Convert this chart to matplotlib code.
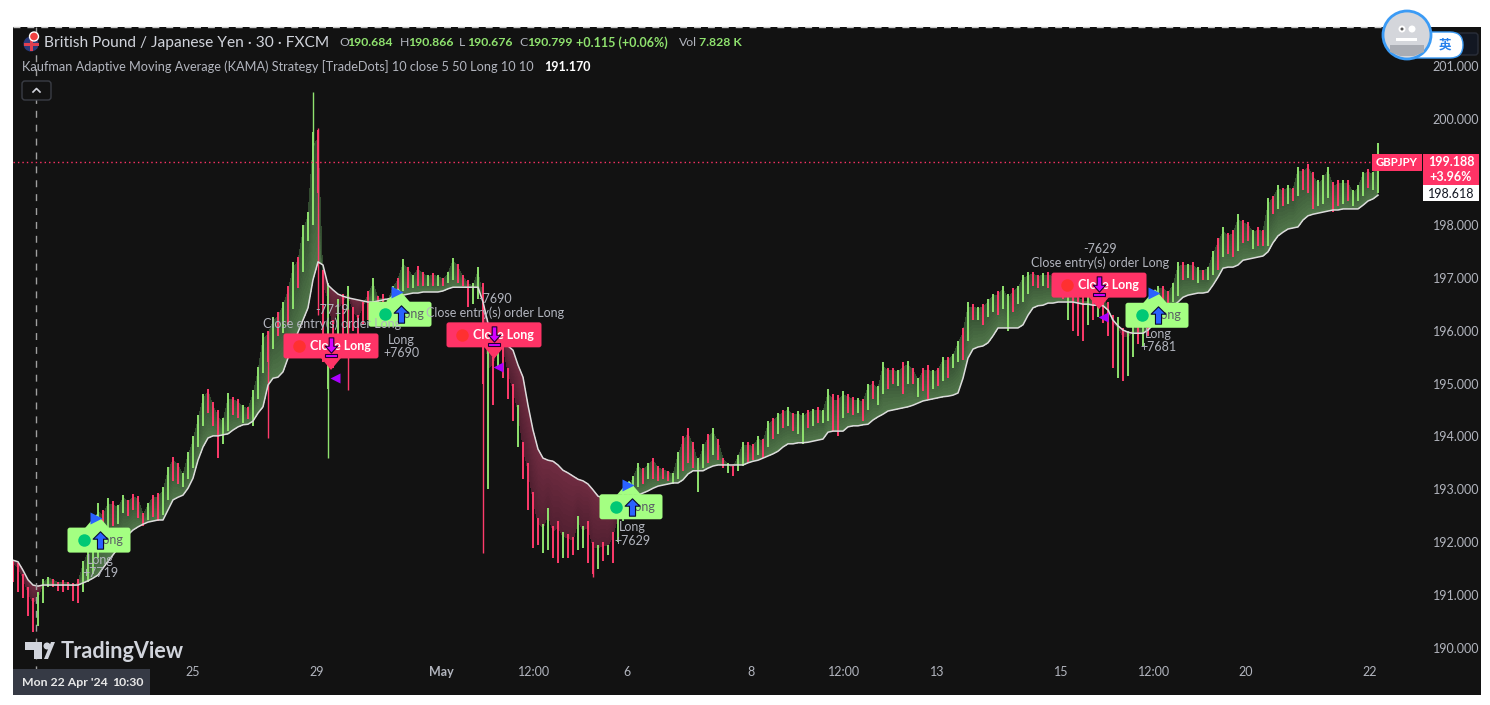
import numpy as np
import matplotlib
matplotlib.use("Agg")
import matplotlib.pyplot as plt
from matplotlib.patches import Rectangle, Circle, Polygon, FancyBboxPatch
from matplotlib.path import Path
from matplotlib.transforms import Affine2D

plt.rcParams['font.family'] = ['Lato', 'DejaVu Sans']

W, H = 1490, 705
BG = '#121212'
UP = '#8fe26e'
DOWN = '#ff3b6b'
PINK = '#ff3366'
LIME = '#a4ff82'
GREY = '#b2b5be'

# one row = 20 bars
kama = [
    191.66, 191.63, 191.47, 191.29, 191.19, 191.17, 191.19, 191.19, 191.19, 191.19, 191.19, 191.19, 191.19, 191.19, 191.23, 191.27, 191.32, 191.38, 191.51, 191.64,
    191.76, 191.89, 192.02, 192.14, 192.23, 192.29, 192.34, 192.38, 192.40, 192.42, 192.42, 192.61, 192.80, 192.85, 192.89, 193.02, 193.21, 193.55, 193.80, 193.97,
    194.01, 194.01, 194.03, 194.05, 194.12, 194.18, 194.22, 194.23, 194.29, 194.44, 194.56, 194.97, 195.10, 195.12, 195.22, 195.48, 195.73, 195.97, 196.20, 196.43,
    196.96, 197.30, 197.24, 196.86, 196.77, 196.69, 196.65, 196.62, 196.60, 196.58, 196.56, 196.54, 196.54, 196.56, 196.58, 196.60, 196.62, 196.65, 196.67, 196.69,
    196.71, 196.71, 196.73, 196.73, 196.73, 196.73, 196.75, 196.79, 196.82, 196.82, 196.82, 196.82, 196.82, 196.82, 196.54, 196.14, 196.01, 195.90, 195.80, 195.71,
    195.63, 195.35, 195.12, 194.59, 194.12, 193.76, 193.59, 193.55, 193.53, 193.46, 193.36, 193.31, 193.25, 193.19, 193.16, 193.10, 192.99, 192.87, 192.84, 192.82,
    192.80, 192.80, 192.82, 192.84, 192.87, 192.89, 192.93, 192.97, 193.02, 193.06, 193.08, 193.10, 193.12, 193.12, 193.18, 193.29, 193.35, 193.35, 193.35, 193.40,
    193.44, 193.46, 193.46, 193.46, 193.46, 193.46, 193.46, 193.50, 193.53, 193.55, 193.59, 193.63, 193.67, 193.72, 193.80, 193.86, 193.86, 193.88, 193.88, 193.89,
    193.91, 193.93, 193.95, 194.08, 194.10, 194.10, 194.10, 194.18, 194.20, 194.20, 194.22, 194.23, 194.31, 194.37, 194.42, 194.48, 194.50, 194.52, 194.54, 194.56,
    194.59, 194.63, 194.67, 194.69, 194.71, 194.73, 194.75, 194.76, 194.78, 194.82, 195.10, 195.48, 195.65, 195.69, 195.71, 195.77, 195.90, 196.05, 196.05, 196.05,
    196.05, 196.05, 196.11, 196.29, 196.43, 196.47, 196.48, 196.52, 196.52, 196.54, 196.54, 196.54, 196.54, 196.52, 196.50, 196.50, 196.48, 196.48, 196.47, 196.39,
    196.20, 196.09, 196.01, 195.97, 195.95, 195.95, 195.95, 196.01, 196.11, 196.20, 196.29, 196.39, 196.47, 196.54, 196.63, 196.67, 196.69, 196.71, 196.71, 196.73,
    196.86, 197.01, 197.18, 197.20, 197.20, 197.24, 197.33, 197.35, 197.37, 197.39, 197.41, 197.49, 197.66, 197.79, 197.86, 197.92, 197.94, 197.96, 198.09, 198.17,
    198.20, 198.22, 198.24, 198.26, 198.28, 198.28, 198.30, 198.30, 198.30, 198.30, 198.37, 198.45, 198.49, 198.56,
]
highs = [
    191.66, 191.60, 191.40, 191.15, 190.95, 191.05, 191.30, 191.35, 191.30, 191.25, 191.28, 191.25, 191.22, 191.30, 191.65, 191.90, 192.15, 192.75, 192.60, 192.83,
    192.78, 192.70, 192.89, 192.80, 192.91, 192.88, 192.55, 192.75, 192.90, 192.93, 193.05, 193.42, 193.62, 193.50, 193.30, 193.70, 194.00, 194.40, 194.80, 194.90,
    194.65, 194.50, 194.35, 194.82, 194.75, 194.70, 194.60, 194.55, 194.88, 195.31, 195.95, 196.00, 196.25, 196.35, 196.55, 196.85, 197.30, 197.40, 198.00, 198.25,
    199.75, 199.80, 197.15, 196.90, 196.20, 196.60, 196.70, 196.85, 196.45, 196.30, 196.55, 196.75, 197.00, 196.65, 196.70, 196.60, 196.85, 197.00, 197.35, 197.20,
    197.05, 197.22, 197.10, 197.05, 197.08, 197.05, 197.00, 197.10, 197.38, 197.25, 197.05, 196.95, 196.90, 197.20, 196.90, 195.70, 195.50, 195.80, 195.80, 195.30,
    195.00, 194.60, 193.90, 193.50, 192.95, 192.45, 192.35, 192.65, 192.30, 192.40, 192.20, 192.15, 192.10, 192.50, 192.30, 192.40, 192.00, 191.95, 192.00, 191.95,
    192.20, 192.60, 192.95, 193.10, 193.25, 193.50, 193.40, 193.50, 193.60, 193.45, 193.40, 193.35, 193.30, 193.70, 194.00, 194.15, 193.90, 193.60, 193.85, 194.05,
    194.15, 193.95, 193.60, 193.50, 193.45, 193.65, 193.90, 193.90, 193.85, 194.00, 193.95, 194.30, 194.35, 194.45, 194.50, 194.55, 194.45, 194.48, 194.45, 194.50,
    194.52, 194.55, 194.50, 194.90, 194.80, 194.78, 194.85, 194.80, 194.75, 194.72, 194.70, 195.00, 195.05, 194.95, 195.40, 195.30, 195.30, 195.25, 195.40, 195.42,
    195.30, 195.10, 195.30, 195.35, 195.25, 195.30, 195.50, 195.50, 195.55, 195.80, 196.05, 196.55, 196.50, 196.45, 196.50, 196.60, 196.70, 196.75, 196.85, 196.70,
    196.80, 196.85, 197.05, 197.10, 197.10, 197.05, 197.08, 197.10, 197.05, 197.00, 197.05, 196.85, 196.80, 196.75, 196.70, 196.65, 196.75, 196.70, 196.70, 196.55,
    196.30, 196.25, 196.05, 196.00, 196.10, 196.15, 196.10, 196.50, 196.70, 196.85, 196.85, 196.75, 196.90, 197.30, 197.30, 197.25, 197.30, 197.20, 197.15, 197.20,
    197.50, 197.75, 197.95, 197.85, 197.90, 198.20, 198.10, 198.05, 197.90, 197.95, 197.90, 198.50, 198.55, 198.75, 198.70, 198.75, 198.70, 199.10, 199.05, 199.15,
    199.00, 198.85, 198.95, 199.10, 198.80, 198.85, 198.85, 198.85, 198.65, 198.75, 199.00, 199.05, 199.00, 199.55,
]
lows = [
    191.25, 191.05, 190.95, 190.60, 190.30, 190.42, 190.85, 191.15, 191.15, 191.08, 191.05, 191.10, 190.88, 190.85, 191.05, 191.25, 191.40, 191.70, 191.85, 192.10,
    192.30, 192.35, 192.55, 192.50, 192.60, 192.45, 192.30, 192.42, 192.48, 192.40, 192.52, 192.80, 193.15, 193.10, 193.05, 193.20, 193.40, 193.80, 194.20, 194.45,
    194.20, 193.60, 193.85, 194.10, 194.40, 194.35, 194.25, 194.32, 194.20, 194.70, 195.20, 195.40, 195.65, 195.90, 195.95, 196.10, 196.40, 196.80, 197.10, 197.70,
    198.00, 198.60, 195.40, 194.90, 195.30, 195.50, 195.75, 195.85, 196.00, 195.90, 196.10, 196.20, 196.25, 196.40, 196.20, 196.30, 196.55, 196.65, 196.75, 196.80,
    196.80, 196.85, 196.85, 196.85, 196.85, 196.85, 196.85, 196.90, 196.95, 196.90, 196.85, 196.45, 196.50, 196.60, 195.00, 193.00, 194.60, 195.30, 195.10, 194.70,
    194.30, 193.80, 193.20, 192.60, 191.90, 191.95, 191.80, 191.85, 191.70, 191.60, 191.70, 191.70, 191.75, 191.85, 191.90, 191.60, 191.40, 191.50, 191.65, 191.75,
    191.60, 192.00, 192.40, 192.60, 192.90, 193.05, 193.10, 193.20, 193.20, 193.15, 193.20, 193.15, 193.10, 193.20, 193.35, 193.50, 193.40, 192.95, 193.40, 193.50,
    193.65, 193.55, 193.40, 193.30, 193.25, 193.35, 193.45, 193.50, 193.55, 193.65, 193.60, 193.80, 193.95, 194.05, 194.15, 194.20, 194.10, 194.05, 193.85, 194.15,
    194.20, 194.25, 194.25, 194.30, 194.10, 194.00, 194.35, 194.45, 194.40, 194.45, 194.30, 194.50, 194.70, 194.60, 194.80, 194.90, 195.00, 194.95, 194.80, 195.00,
    195.00, 194.75, 194.85, 194.70, 194.90, 194.95, 195.05, 195.10, 195.30, 195.40, 195.45, 195.80, 196.20, 196.20, 196.10, 196.25, 196.35, 196.30, 196.40, 196.00,
    196.35, 196.50, 196.55, 196.70, 196.85, 196.80, 196.85, 196.80, 196.75, 196.70, 196.60, 196.20, 196.00, 195.90, 195.80, 196.10, 196.20, 196.25, 196.15, 195.90,
    195.30, 195.10, 195.05, 195.15, 195.50, 195.75, 195.70, 195.90, 196.10, 196.40, 196.50, 196.45, 196.55, 196.65, 196.95, 197.00, 196.95, 196.90, 196.95, 196.95,
    197.05, 197.15, 197.40, 197.45, 197.40, 197.50, 197.65, 197.70, 197.55, 197.60, 197.60, 197.60, 198.20, 198.30, 198.35, 198.40, 198.45, 198.55, 198.65, 198.60,
    198.30, 198.35, 198.40, 198.50, 198.25, 198.35, 198.40, 198.45, 198.35, 198.45, 198.55, 198.70, 198.65, 198.60,
]
colours = (
    "rrrrrgggrrrrrrggggrg"
    "rggrrrrgrrggrrgggggr"
    "rrggrrgrgggrgrgrgrgg"
    "grrgrgrgrrrrgrrggrgr"
    "grrgrgrggrrrggrgrgrr"
    "rgrrrrggrrgrrggrrgrg"
    "rggrggrgrrrrggrrrggr"
    "grrgrggrrgrgrgrgrggr"
    "grggrrgrrgrgrggrrgrg"
    "rgrrgrgrggrgrgrggrgg"
    "rgggrrgrggrgrrrgrgrr"
    "rgrggrgrggrrggrgrgrg"
    "grgrrgrrgrrgrgrgrgrr"
    "rgggrrgrgggrgg"
)
spike_bars = [60, 61, 51, 63, 67, 94, 116]
spike_highs = [200.51, 199.83, 196.0, 195.5, 196.4, 196.5, 191.9]
spike_lows = [199.5, 196.3, 193.97, 193.6, 194.88, 191.79, 191.35]
spike_colours = [UP, DOWN, DOWN, UP, DOWN, DOWN, DOWN]

# 199.000 sits behind the price tag in the reference, so it has no label
price_ticks = [190, 191, 192, 193, 194, 195, 196, 197, 198, 200, 201]
time_bars = [36, 60.8, 85.6, 104.2, 122.8, 147.6, 166.2, 184.8, 209.6, 228.2, 246.6, 271.4]
time_labels = ['25', '29', 'May', '12:00', '6', '8', '12:00', '13', '15', '12:00', '20', '22']

long_bars = [17.2, 77.4, 123.6, 228.8]
long_prices = [192.04, 196.31, 192.67, 196.29]
long_profit = ['+7719', '+7690', '+7629', '+7681']
long_label_gap = [26.5, 32.5, 27, 25]
close_bars = [63.6, 96.2, 217.2]
close_prices = [195.71, 195.92, 196.86]
close_loss = ['-7719', '-7690', '-7629']
last_price = 199.188

PX_X = 1 / 5.0      # bars per pixel
PX_Y = 1 / 52.9     # price per pixel


def add_box(ax, bar, price, w, h, colour):
    # w, h in pixels
    box = FancyBboxPatch((bar - w / 2 * PX_X, price - h / 2 * PX_Y), w * PX_X, h * PX_Y,
                         boxstyle="round,pad=0,rounding_size=0.5",
                         mutation_aspect=PX_Y / PX_X, fc=colour, ec='none', zorder=6)
    ax.add_patch(box)


UP_ARROW = Path([(0, 1), (0.85, 0.15), (0.35, 0.15), (0.35, -1), (-0.35, -1), (-0.35, 0.15), (-0.85, 0.15), (0, 1)], closed=True)
DOWN_ARROW = Path([(0, -1), (0.8, -0.1), (0.3, -0.1), (0.3, 1), (-0.3, 1), (-0.3, -0.1), (-0.8, -0.1), (0, -1)], closed=True)

fig = plt.figure(figsize=(W / 100, H / 100), dpi=100, facecolor='white')
px = Affine2D().scale(1, -1).translate(0, H)   # overlay coords = image pixels
fig.add_artist(Rectangle((13, 27), 1468, 668, transform=px, fc=BG, ec='none', zorder=-1))

ax = fig.add_axes([13 / W, 1 - 695 / H, 1410 / W, 668 / H])
ax.patch.set_alpha(0)
ax.set_xlim(0, 282)
ax.set_ylim(189.112, 201.739)
for s in ax.spines.values():
    s.set_visible(False)

bars = np.arange(len(kama))
kama = np.array(kama)
highs = np.array(highs)
lows = np.array(lows)
closes = lows + 0.85 * (highs - lows)

# gradient band between kama and price
layers = np.linspace(0, 1, 13)
band_x = np.tile(bars, (len(layers), 1))
band_y = np.array([kama + t * (closes - kama) for t in layers])
green0, green1 = np.array([0x50, 0x76, 0x49]), np.array([0x30, 0x48, 0x2e])
red0, red1 = np.array([0x6e, 0x2b, 0x40]), np.array([0x50, 0x1f, 0x30])
band_c = np.zeros((len(layers) - 1, len(bars) - 1, 3))
for j in range(len(layers) - 1):
    t = layers[j]
    for i in range(len(bars) - 1):
        c0, c1 = (green0, green1) if closes[i] + closes[i + 1] >= kama[i] + kama[i + 1] else (red0, red1)
        band_c[j, i] = (c0 + t * (c1 - c0)) / 255
ax.pcolormesh(band_x, band_y, band_c, shading='flat', edgecolors='none', zorder=1)

bar_cols = [UP if c == 'g' else DOWN for c in colours]
ax.vlines(bars, lows, highs, colors=bar_cols, lw=1.4, zorder=2)
ax.vlines(spike_bars, spike_lows, spike_highs, colors=spike_colours, lw=1.0, zorder=2)
ax.plot(bars, kama, color='#dcdcdc', lw=1.1, zorder=3)

# crosshair and last price line
ax.axhline(last_price, xmax=1362 / 1410, color=PINK, lw=1, ls=(0, (1, 2.2)), zorder=2)
fig.add_artist(plt.Line2D([36, 36], [27, 669], transform=px, color='#a0a0a0', lw=1, ls=(0, (5, 5)), zorder=1))
fig.add_artist(plt.Line2D([13, 1400], [27, 27], transform=px, color='#c8c8c8', lw=1, ls=(0, (5, 5)), zorder=1))

# long entries
for bar, price, profit, gap in zip(long_bars, long_prices, long_profit, long_label_gap):
    add_box(ax, bar, price, 63, 25, LIME)
    ax.add_patch(Polygon([(bar - 14 * PX_X, price + 12 * PX_Y), (bar - 2 * PX_X, price + 26 * PX_Y),
                          (bar + 10 * PX_X, price + 12 * PX_Y)], fc=LIME, ec='none', zorder=6))
    ax.plot(bar - 15 * PX_X, price, 'o', ms=9, color='#00c875', mec='none', zorder=7)
    ax.text(bar + 11 * PX_X, price, 'Long', color='#5b5f66', fontsize=9, ha='center', va='center', zorder=7)
    ax.plot(bar + 1 * PX_X, price, marker=UP_ARROW, ms=12.5, mfc='#2a62ff', mec='#0a0a30', mew=0.8, zorder=8)
    ax.plot(bar - 3 * PX_X, price + 22 * PX_Y, marker='>', ms=8, color='#2a62ff', mec='none', zorder=8)
    ax.text(bar + 1 * PX_X, price - gap * PX_Y, 'Long\n' + profit, color=GREY, fontsize=9,
            ha='center', va='center', linespacing=1.15, zorder=7)

# closes
for bar, price, loss in zip(close_bars, close_prices, close_loss):
    add_box(ax, bar, price, 95, 25, PINK)
    ax.add_patch(Polygon([(bar - 10 * PX_X, price - 12 * PX_Y), (bar, price - 24 * PX_Y),
                          (bar + 10 * PX_X, price - 12 * PX_Y)], fc=PINK, ec='none', zorder=6))
    ax.plot(bar - 32 * PX_X, price, 'o', ms=9, color='#ff3030', mec='none', zorder=7)
    ax.text(bar + 9 * PX_X, price, 'Close Long', color='white', fontsize=9, fontweight='bold', ha='center', va='center', zorder=7)
    ax.plot(bar, price + 1 * PX_Y, marker=DOWN_ARROW, ms=11, mfc='#d400ff', mec='#200030', mew=0.8, zorder=8)
    ax.add_patch(Rectangle((bar - 6 * PX_X, price - 11 * PX_Y), 12 * PX_X, 3 * PX_Y, fc='#d400ff', ec='#200030', lw=0.8, zorder=8))
    ax.plot(bar + 4 * PX_X, price - 32 * PX_Y, marker='<', ms=7.5, color='#aa00ff', mec='none', zorder=8)
    ax.text(bar + 1 * PX_X, price + 36 * PX_Y, loss, color=GREY, fontsize=9, ha='center', va='center', zorder=7)
    ax.text(bar + 1 * PX_X, price + 22 * PX_Y, 'Close entry(s) order Long', color=GREY, fontsize=9, ha='center', va='center', zorder=7)

# axes labels
ax.yaxis.tick_right()
ax.set_yticks(price_ticks)
ax.set_yticklabels(['%.3f' % p for p in price_ticks])
ax.tick_params(axis='y', length=0, pad=7, labelsize=9, labelcolor=GREY)
ax.set_xticks(time_bars)
ax.set_xticklabels(time_labels)
ax.tick_params(axis='x', length=0, pad=-21, labelsize=9, labelcolor=GREY, direction='in')
ax.get_xticklabels()[2].set_fontweight('bold')

# date tag
fig.add_artist(Rectangle((13, 669), 137, 26, transform=px, fc='#363a45', ec='none', zorder=5))
fig.text(22, 683, "Mon 22 Apr '24", transform=px, color='#e8e8e8', fontsize=8.8, fontweight='bold', va='center', zorder=6)
fig.text(112, 683, "10:30", transform=px, color='#e8e8e8', fontsize=8.8, fontweight='bold', va='center', zorder=6)

# right side tags
fig.add_artist(Rectangle((1372, 154), 50, 17, transform=px, fc=PINK, ec='none', zorder=5))
fig.text(1397, 162.5, 'GBPJPY', transform=px, color='white', fontsize=8.2, fontweight='bold', ha='center', va='center', zorder=6)
fig.add_artist(Rectangle((1423, 154), 56, 31, transform=px, fc=PINK, ec='none', zorder=5))
fig.text(1451, 162, '199.188', transform=px, color='white', fontsize=9, fontweight='bold', ha='center', va='center', zorder=6)
fig.text(1451, 177, '+3.96%', transform=px, color='white', fontsize=9, fontweight='bold', ha='center', va='center', zorder=6)
fig.add_artist(Rectangle((1423, 185), 56, 16, transform=px, fc='white', ec='none', zorder=5))
fig.text(1451, 193.5, '198.618', transform=px, color='#131722', fontsize=9, ha='center', va='center', zorder=6)

# legend header
fig.add_artist(Circle((31, 44), 7.5, transform=px, fc='#2a3a7a', ec='none', zorder=5))
fig.add_artist(Rectangle((24, 42.5), 15, 3, transform=px, fc='#e04050', ec='none', zorder=6))
fig.add_artist(Rectangle((29.5, 37), 3, 14, transform=px, fc='#e04050', ec='none', zorder=6))
fig.add_artist(Circle((34, 36.5), 4.5, transform=px, fc='#f04040', ec='white', lw=1, zorder=7))
fig.text(44, 43, 'British Pound / Japanese Yen · 30 · FXCM', transform=px, color='#d1d4dc', fontsize=11.2, va='center', zorder=6)
for x, tag, val in zip([339, 400, 459, 519], 'OHLC', ['190.684', '190.866', '190.676', '190.799']):
    fig.text(x, 43, tag, transform=px, color=GREY, fontsize=8.8, va='center', zorder=6)
    fig.text(x + 8, 43, val, transform=px, color=UP, fontsize=8.8, fontweight='bold', va='center', zorder=6)
fig.text(576, 43, '+0.115 (+0.06%)', transform=px, color=UP, fontsize=9, fontweight='bold', va='center', zorder=6)
fig.text(679, 43, 'Vol', transform=px, color=GREY, fontsize=8.8, va='center', zorder=6)
fig.text(699, 43, '7.828 K', transform=px, color=UP, fontsize=8.8, fontweight='bold', va='center', zorder=6)
fig.text(22, 67, 'Kaufman Adaptive Moving Average (KAMA) Strategy [TradeDots] 10 close 5 50 Long 10 10', transform=px,
         color=GREY, fontsize=9.2, va='center', zorder=6)
fig.text(544, 67, '191.170', transform=px, color='white', fontsize=9, fontweight='bold', va='center', zorder=6)

# collapse button
fig.add_artist(FancyBboxPatch((22, 81), 29, 19, transform=px, boxstyle="round,pad=0,rounding_size=3", fc=BG, ec='#3a3d45', lw=1, zorder=5))
fig.add_artist(plt.Line2D([33, 36.5, 40], [92, 88.5, 92], transform=px, color='#d1d4dc', lw=1.2, zorder=6))

# watermark
logo_col = '#d1d4dc'
fig.add_artist(Polygon([(25, 642), (42, 642), (42, 659), (34, 659), (34, 650), (25, 650)], transform=px, fc=logo_col, ec='none', zorder=6))
fig.add_artist(Circle((47, 646), 3.5, transform=px, fc=logo_col, ec='none', zorder=6))
fig.add_artist(Polygon([(44, 659), (51, 642), (55, 642), (48, 659)], transform=px, fc=logo_col, ec='none', zorder=6))
fig.text(61, 651, 'TradingView', transform=px, color=logo_col, fontsize=15.6, fontweight='bold', va='center', zorder=6)

# top right widget
fig.add_artist(FancyBboxPatch((1420, 33), 58, 22, transform=px, boxstyle="round,pad=0,rounding_size=3", fc='#121722', ec='#2a2e39', lw=1, zorder=5))
fig.add_artist(FancyBboxPatch((1404, 32), 59, 26, transform=px, boxstyle="round,pad=0,rounding_size=13", fc='white', ec='#3b9bf5', lw=1, zorder=6))
fig.text(1445, 45.5, '英', transform=px, color='#2680eb', fontsize=9, fontweight='bold', ha='center', va='center',
         family=['Noto Sans CJK SC', 'DejaVu Sans'], zorder=7)
fig.add_artist(Circle((1407, 35), 24, transform=px, fc='#d4d6db', ec='#3b9bf5', lw=2, zorder=8))
fig.add_artist(Polygon([(1390, 45), (1424, 45), (1424, 52), (1414, 56), (1400, 56), (1390, 52)], transform=px, fc='#a9acb3', ec='none', zorder=9))
fig.add_artist(Circle((1402, 29), 3.5, transform=px, fc='white', ec='none', zorder=9))
fig.add_artist(Circle((1412, 29), 3.5, transform=px, fc='white', ec='none', zorder=9))
fig.add_artist(Circle((1402, 29), 1.5, transform=px, fc='#555', ec='none', zorder=10))
fig.add_artist(Rectangle((1396, 38), 21, 3, transform=px, fc='white', ec='none', zorder=9))

fig.savefig('out.png', dpi=100, facecolor='white')
